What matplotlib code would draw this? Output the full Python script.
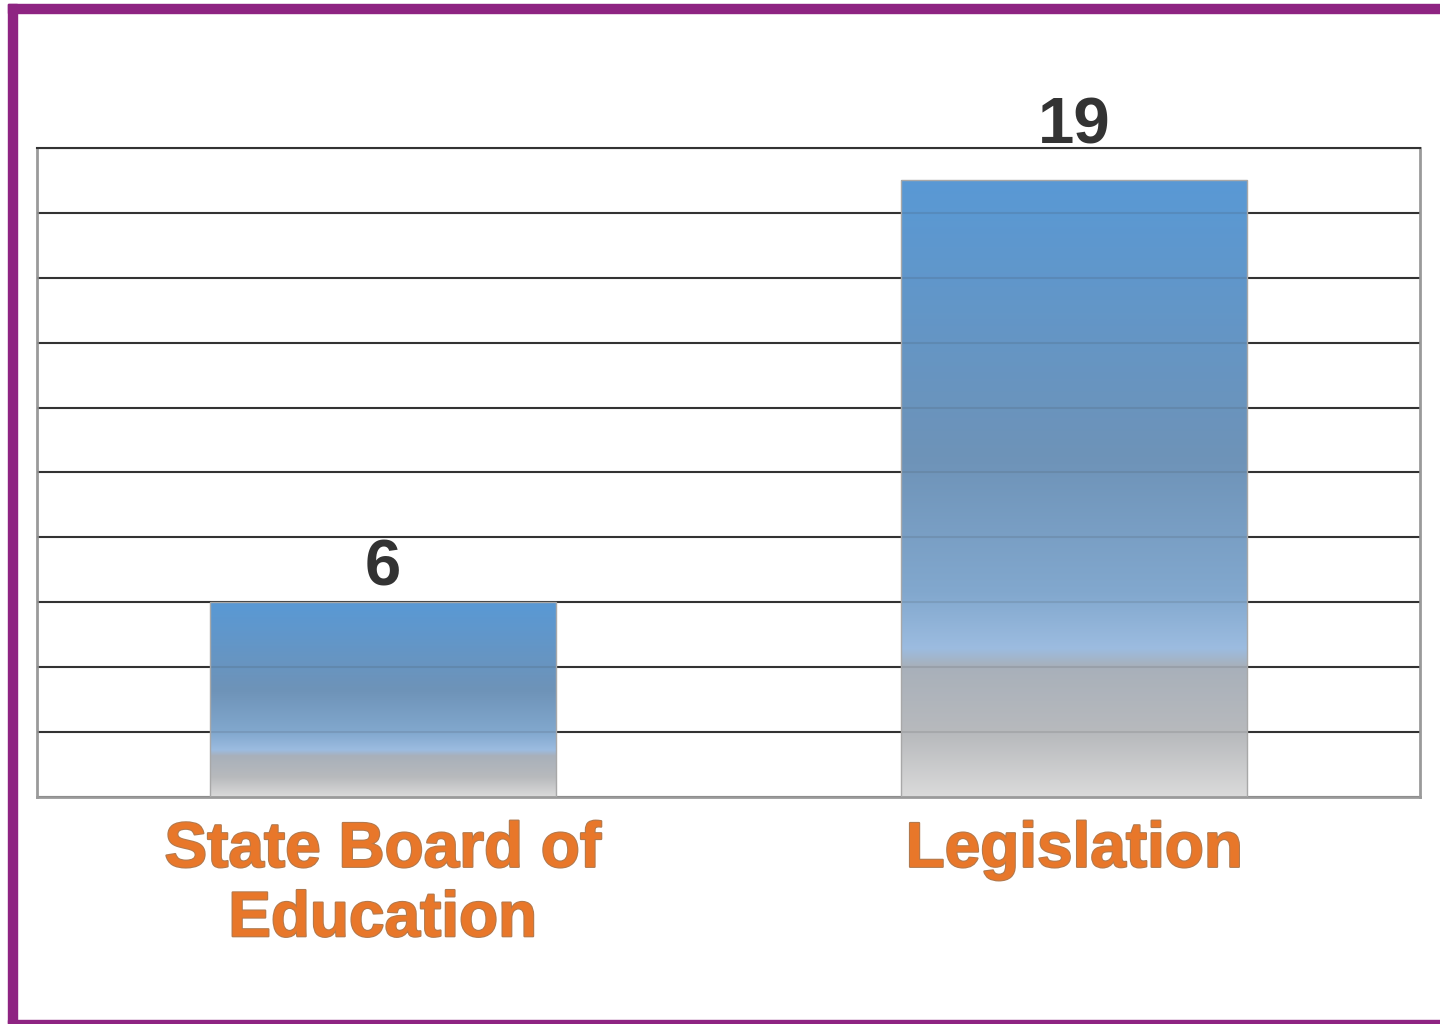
import matplotlib.pyplot as plt
import matplotlib.patheffects as pe
from matplotlib.colors import LinearSegmentedColormap
from matplotlib.patches import Rectangle
import numpy as np

categories = ["State Board of\nEducation", "Legislation"]
values = [6, 19]
label_offsets = [3, 17]  # points above bar top

y_max = 20
grid_step = 2

plt.rcParams['font.family'] = ['Liberation Sans', 'DejaVu Sans']

fig = plt.figure(figsize=(14.4, 10.24), dpi=100)
ax = fig.add_axes([0.0257, 0.2217, 0.9604, 0.6338])

# purple frame around the slide
purple = '#8E2482'
fig.patches.append(Rectangle((8 / 1440, 0), 9 / 1440, 1 - 4 / 1024, transform=fig.transFigure,
                             color=purple, zorder=10))
fig.patches.append(Rectangle((8 / 1440, 1 - 13 / 1024), 1 - 8 / 1440, 9 / 1024, transform=fig.transFigure,
                             color=purple, zorder=10))
fig.patches.append(Rectangle((8 / 1440, 1 / 1024), 1 - 8 / 1440, 3 / 1024, transform=fig.transFigure,
                             color=purple, zorder=10))

x = np.arange(len(categories))
bars = ax.bar(x, values, width=0.5, facecolor='none', edgecolor='#A8A8A8', linewidth=1.0, zorder=4)

grad = LinearSegmentedColormap.from_list('bar', [
    (0.0, '#DADADA'),
    (0.10, '#B8BABD'),
    (0.21, '#A8B0BA'),
    (0.24, '#9CBCE0'),
    (0.33, '#82A8CE'),
    (0.55, '#6E93B8'),
    (1.0, '#5999D5'),
])
g = np.linspace(0, 1, 256).reshape(-1, 1)
for b in bars:
    x0, w, h = b.get_x(), b.get_width(), b.get_height()
    ax.imshow(g, cmap=grad, aspect='auto', origin='lower', extent=(x0, x0 + w, 0, h),
              zorder=2, interpolation='bilinear')

# faint grid lines showing through the bars
ticks = np.arange(grid_step, y_max, grid_step)
ax.hlines(ticks, -0.5, 1.5, color='#333333', linewidth=1.5, alpha=0.12, zorder=3)

for b, v, off in zip(bars, values, label_offsets):
    ax.annotate(str(v), (b.get_x() + b.get_width() / 2, v), xytext=(0, off), textcoords='offset points',
                ha='center', va='bottom', fontsize=47, fontweight='bold', color='#333333')

ax.set_xlim(-0.5, 1.5)
ax.set_ylim(0, y_max)
ax.set_yticks(np.arange(0, y_max + 1, grid_step))
ax.yaxis.grid(True, color='#333333', linewidth=1.5, zorder=1)
ax.set_axisbelow(True)
ax.tick_params(left=False, bottom=False, labelleft=False)
ax.set_xticks(x)
ax.set_xticklabels(categories, fontsize=46, fontweight='bold', color='#E8772A', linespacing=1.2,
                   path_effects=[pe.withStroke(linewidth=1.5, foreground='#B07A50')])
ax.tick_params(axis='x', pad=13)

for side in ['left', 'right', 'bottom']:
    ax.spines[side].set_color('#9A9A9A')
    ax.spines[side].set_linewidth(2)
ax.spines['top'].set_color('#333333')
ax.spines['top'].set_linewidth(1.5)

fig.savefig('out.png', dpi=100, facecolor='white')
